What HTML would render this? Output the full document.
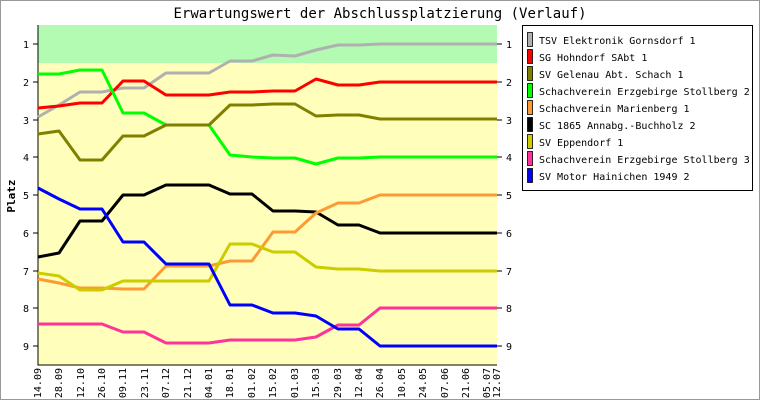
<!DOCTYPE html><html><head><style>body{margin:0}svg{display:block}text{font-family:"DejaVu Sans Mono","Liberation Mono",monospace;font-size:10px}</style></head><body>
<svg width="760" height="400" xmlns="http://www.w3.org/2000/svg">
<rect x="0" y="0" width="760" height="400" fill="#fff"/>
<rect x="0.5" y="0.5" width="759" height="399" fill="none" stroke="#999"/>
<text x="380" y="18" text-anchor="middle" style="font-size:14px">Erwartungswert der Abschlussplatzierung (Verlauf)</text>
<rect x="38" y="25" width="459" height="38" fill="#b3fbb3"/>
<rect x="38" y="63" width="459" height="302" fill="#ffffbb"/>
<path d="M38 25V365H497" fill="none" stroke="#000"/>
<g stroke="#000">
<path d="M33 44h5M33 82h5M33 120h5M33 157h5M33 195h5M33 233h5M33 271h5M33 308h5M33 346h5"/>
<path d="M497 44h5M497 82h5M497 120h5M497 157h5M497 195h5M497 233h5M497 271h5M497 308h5M497 346h5"/>
</g>
<g font-size="9"><g text-anchor="middle">
<text x="26" y="48">1</text><text x="26" y="86">2</text><text x="26" y="124">3</text><text x="26" y="161">4</text><text x="26" y="199">5</text><text x="26" y="237">6</text><text x="26" y="275">7</text><text x="26" y="312">8</text><text x="26" y="350">9</text>
<text x="509" y="48">1</text><text x="509" y="86">2</text><text x="509" y="124">3</text><text x="509" y="161">4</text><text x="509" y="199">5</text><text x="509" y="237">6</text><text x="509" y="275">7</text><text x="509" y="312">8</text><text x="509" y="350">9</text></g></g>
<text transform="translate(15,196) rotate(-90)" text-anchor="middle" style="font-size:11px;font-weight:bold">Platz</text>
<g style="font-size:9px" text-anchor="end">
<text transform="translate(41,368) rotate(-90)">14.09</text>
<text transform="translate(62,368) rotate(-90)">28.09</text>
<text transform="translate(84,368) rotate(-90)">12.10</text>
<text transform="translate(105,368) rotate(-90)">26.10</text>
<text transform="translate(126,368) rotate(-90)">09.11</text>
<text transform="translate(148,368) rotate(-90)">23.11</text>
<text transform="translate(169,368) rotate(-90)">07.12</text>
<text transform="translate(191,368) rotate(-90)">21.12</text>
<text transform="translate(212,368) rotate(-90)">04.01</text>
<text transform="translate(233,368) rotate(-90)">18.01</text>
<text transform="translate(255,368) rotate(-90)">01.02</text>
<text transform="translate(276,368) rotate(-90)">15.02</text>
<text transform="translate(298,368) rotate(-90)">01.03</text>
<text transform="translate(319,368) rotate(-90)">15.03</text>
<text transform="translate(341,368) rotate(-90)">29.03</text>
<text transform="translate(362,368) rotate(-90)">12.04</text>
<text transform="translate(383,368) rotate(-90)">26.04</text>
<text transform="translate(405,368) rotate(-90)">10.05</text>
<text transform="translate(426,368) rotate(-90)">24.05</text>
<text transform="translate(448,368) rotate(-90)">07.06</text>
<text transform="translate(469,368) rotate(-90)">21.06</text>
<text transform="translate(490,368) rotate(-90)">05.07</text>
<text transform="translate(500,368) rotate(-90)">12.07</text>
</g>
<g fill="none" stroke-width="3" stroke-linejoin="round">
<polyline stroke="#b0b0b0" points="38,117 59,105 80,92 102,92 123,88 144,88 166,73 187,73 209,73 230,61 252,61 273,55 295,56 316,50 338,45 359,45 380,44 497,44"/>
<polyline stroke="#ff0000" points="38,108 59,106 80,103 102,103 123,81 144,81 166,95 187,95 209,95 230,92 252,92 273,91 295,91 316,79 338,85 359,85 380,82 497,82"/>
<polyline stroke="#00ff00" points="38,74 59,74 80,70 102,70 123,113 144,113 166,125 187,125 209,125 230,155 252,157 273,158 295,158 316,164 338,158 359,158 380,157 497,157"/>
<polyline stroke="#808000" points="38,134 59,131 80,160 102,160 123,136 144,136 166,125 187,125 209,125 230,105 252,105 273,104 295,104 316,116 338,115 359,115 380,119 497,119"/>
<polyline stroke="#000000" points="38,257 59,253 80,221 102,221 123,195 144,195 166,185 187,185 209,185 230,194 252,194 273,211 295,211 316,212 338,225 359,225 380,233 497,233"/>
<polyline stroke="#ff9933" points="38,279 59,283 80,288 102,288 123,289 144,289 166,266 187,266 209,266 230,261 252,261 273,232 295,232 316,213 338,203 359,203 380,195 497,195"/>
<polyline stroke="#cccc00" points="38,273 59,276 80,290 102,290 123,281 144,281 166,281 187,281 209,281 230,244 252,244 273,252 295,252 316,267 338,269 359,269 380,271 497,271"/>
<polyline stroke="#ff3399" points="38,324 59,324 80,324 102,324 123,332 144,332 166,343 187,343 209,343 230,340 252,340 273,340 295,340 316,337 338,325 359,325 380,308 497,308"/>
<polyline stroke="#0000ff" points="38,188 59,199 80,209 102,209 123,242 144,242 166,264 187,264 209,264 230,305 252,305 273,313 295,313 316,316 338,329 359,329 380,346 497,346"/>
</g>
<rect x="522.5" y="25.5" width="230" height="165" fill="#fff" stroke="#000"/>
<g stroke="#000" stroke-width="0.8">
<rect x="527.5" y="32.5" width="5" height="14" fill="#b0b0b0"/>
<rect x="527.5" y="49.5" width="5" height="14" fill="#ff0000"/>
<rect x="527.5" y="66.5" width="5" height="14" fill="#808000"/>
<rect x="527.5" y="83.5" width="5" height="14" fill="#00ff00"/>
<rect x="527.5" y="100.5" width="5" height="14" fill="#ff9933"/>
<rect x="527.5" y="117.5" width="5" height="14" fill="#000"/>
<rect x="527.5" y="134.5" width="5" height="14" fill="#cccc00"/>
<rect x="527.5" y="151.5" width="5" height="14" fill="#ff3399"/>
<rect x="527.5" y="168.5" width="5" height="14" fill="#0000ff"/>
</g>
<g style="font-size:10.5px">
<text x="539" y="44">TSV Elektronik Gornsdorf 1</text>
<text x="539" y="61">SG Hohndorf SAbt 1</text>
<text x="539" y="78">SV Gelenau Abt. Schach 1</text>
<text x="539" y="95">Schachverein Erzgebirge Stollberg 2</text>
<text x="539" y="112">Schachverein Marienberg 1</text>
<text x="539" y="129">SC 1865 Annabg.-Buchholz 2</text>
<text x="539" y="146">SV Eppendorf 1</text>
<text x="539" y="163">Schachverein Erzgebirge Stollberg 3</text>
<text x="539" y="180">SV Motor Hainichen 1949 2</text>
</g>
</svg></body></html>
